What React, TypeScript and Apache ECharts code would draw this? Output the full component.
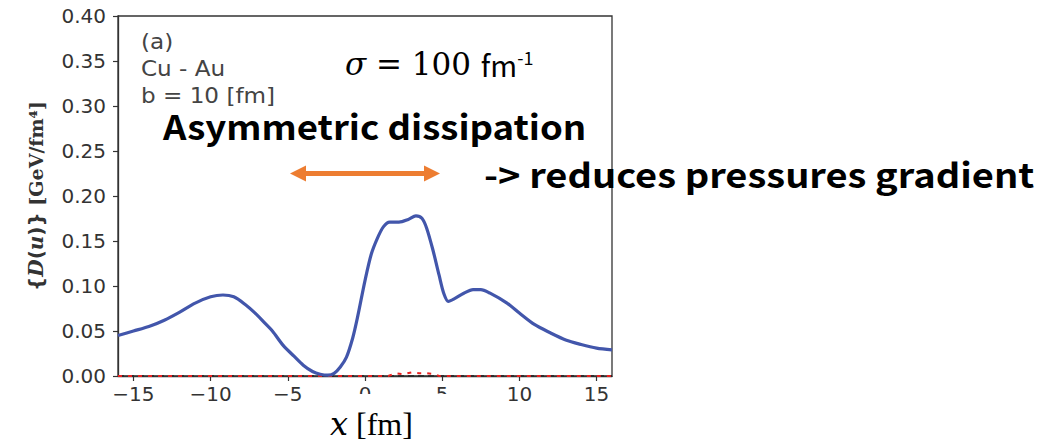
import React, { useEffect, useRef } from "react";
import * as echarts from "echarts";

const xTicks = [-15, -10, -5, 0, 5, 10, 15];

const blueX = [-16, -15, -14, -13, -12, -11, -10, -9.2, -8.5, -7.8, -7, -6.5, -6, -5.3, -4.6, -4, -3.4, -2.9, -2.4, -2.0, -1.6, -1.2, -0.8, -0.5, 0, 0.4, 0.8, 1.2, 1.6, 2.2, 2.8, 3.3, 3.7, 4.0, 4.4, 4.8, 5.1, 5.4, 5.8, 6.4, 7.0, 7.5, 8.1, 9.2, 10, 11, 12, 13, 14, 15, 16];
const blueY = [0.045, 0.05, 0.055, 0.062, 0.071, 0.081, 0.088, 0.09, 0.088, 0.08, 0.068, 0.059, 0.05, 0.034, 0.022, 0.012, 0.005, 0.002, 0.001, 0.003, 0.01, 0.021, 0.042, 0.064, 0.106, 0.135, 0.153, 0.166, 0.171, 0.171, 0.174, 0.178, 0.175, 0.164, 0.14, 0.112, 0.092, 0.083, 0.086, 0.092, 0.096, 0.096, 0.092, 0.081, 0.07, 0.057, 0.048, 0.04, 0.035, 0.031, 0.029];

const redX = [-16, 1.5, 2.0, 2.5, 3.0, 3.5, 4.0, 4.5, 4.8, 16];
const redY = [0, 0, 0.003, 0.002, 0.004, 0.003, 0.003, 0.002, 0, 0];

const baseX = [-16, 16];
const baseY = [0, 0];

const infoLines = ["(a)", "Cu - Au", "b = 10 [fm]"];

export default function App() {
  const ref = useRef<HTMLDivElement>(null);
  useEffect(() => {
    if (!ref.current) return;
    const chart = echarts.init(ref.current, null, { renderer: "svg" });
    const fmtX = (v: number) => (v < 0 ? "\u2212" + Math.abs(v) : String(v));
    chart.setOption({
      animation: false,
      backgroundColor: "#ffffff",
      grid: {
        left: 118,
        top: 16,
        width: 494,
        height: 360,
        show: true,
        borderColor: "#333",
        borderWidth: 1.3,
        backgroundColor: "transparent",
        outerBoundsMode: "none",
        containLabel: false,
      },
      xAxis: {
        type: "value",
        min: -16,
        max: 16,
        splitLine: { show: false },
        axisLine: { show: true, onZero: false, lineStyle: { color: "#333", width: 1.3 } },
        axisTick: { show: true, length: 5, lineStyle: { color: "#333", width: 1.2 }, customValues: xTicks },
        axisLabel: {
          customValues: xTicks,
          formatter: fmtX,
          color: "#333",
          fontSize: 20,
          fontFamily: "DejaVu Sans",
          margin: 8,
        },
      },
      yAxis: {
        type: "value",
        min: 0,
        max: 0.4,
        interval: 0.05,
        splitLine: { show: false },
        axisLine: { show: true, onZero: false, lineStyle: { color: "#333", width: 1.3 } },
        axisTick: { show: true, length: 5, lineStyle: { color: "#333", width: 1.2 } },
        axisLabel: {
          formatter: (v: number) => v.toFixed(2),
          color: "#333",
          fontSize: 20,
          fontFamily: "DejaVu Sans",
          margin: 12,
        },
        name: "{br|{}{it|D}{br|(}{it|u}{br|)}}{unit| [GeV/fm\u2074]}",
        nameLocation: "middle",
        nameRotate: 90,
        nameGap: 72,
        nameTextStyle: {
          fontSize: 20,
          fontWeight: "bold",
          fontFamily: "DejaVu Sans",
          color: "#333",
          rich: {
            br: { fontSize: 20, fontWeight: "bold", fontFamily: "DejaVu Sans", color: "#333" },
            it: { fontSize: 20, fontStyle: "italic", fontWeight: "bold", fontFamily: "DejaVu Serif", color: "#333" },
            unit: { fontSize: 19, fontFamily: "DejaVu Serif", color: "#333" },
          },
        },
      },
      series: [
        {
          type: "line",
          data: baseX.map((x, i) => [x, baseY[i]]),
          showSymbol: false,
          lineStyle: { color: "#222", width: 1.5, type: [6, 4] },
          z: 2,
        },
        {
          type: "line",
          data: redX.map((x, i) => [x, redY[i]]),
          showSymbol: false,
          lineStyle: { color: "#e8201f", width: 2, type: [4, 6] },
          z: 3,
        },
        {
          type: "line",
          data: blueX.map((x, i) => [x, blueY[i]]),
          smooth: 0.3,
          showSymbol: false,
          lineStyle: { color: "#4256ab", width: 3.2 },
          z: 4,
        },
      ],
      graphic: [
        {
          type: "rect",
          z: 100,
          shape: { x: 330, y: 394, width: 150, height: 51 },
          style: { fill: "#ffffff" },
        },
        {
          type: "text",
          z: 101,
          x: 330,
          y: 408,
          style: {
            text: "{it|x} [fm]",
            fill: "#000",
            font: "32px 'Liberation Serif'",
            rich: { it: { fontStyle: "italic", fontFamily: "DejaVu Serif", fontSize: 32, fill: "#000" } },
          },
        },
        ...infoLines.map((t, i) => ({
          type: "text",
          z: 101,
          x: 141,
          y: 31 + i * 27,
          scaleX: 1.1,
          style: { text: t, fill: "#444", font: "21px 'DejaVu Sans'" },
        })),
        {
          type: "text",
          z: 101,
          x: 345,
          y: 48,
          style: {
            text: "{it|\u03c3}{s| = 100 }{u|fm}{sup|-1}",
            rich: {
              it: { fontFamily: "DejaVu Serif", fontStyle: "italic", fontSize: 31, fill: "#000" },
              s: { fontFamily: "DejaVu Serif", fontSize: 31, fill: "#000" },
              u: { fontFamily: "Noto Sans CJK JP", fontSize: 29, fill: "#000" },
              sup: { fontFamily: "Noto Sans CJK JP", fontSize: 18, fill: "#000", verticalAlign: "top", padding: [0, 0, 14, 0] },
            },
          },
        },
        {
          type: "text",
          z: 101,
          x: 163,
          y: 108,
          scaleX: 1.076,
          style: { text: "Asymmetric dissipation", fill: "#000", font: "bold 34px 'Noto Sans CJK JP'" },
        },
        {
          type: "text",
          z: 101,
          x: 484,
          y: 156,
          scaleX: 1.12,
          style: { text: "-> reduces pressures gradient", fill: "#000", font: "bold 34px 'Noto Sans CJK JP'" },
        },
        {
          type: "line",
          z: 101,
          shape: { x1: 304, y1: 173.5, x2: 426, y2: 173.5 },
          style: { stroke: "#ed7d31", lineWidth: 5 },
        },
        {
          type: "polygon",
          z: 101,
          shape: { points: [[290, 173.5], [306, 165.5], [306, 181.5]] },
          style: { fill: "#ed7d31" },
        },
        {
          type: "polygon",
          z: 101,
          shape: { points: [[440, 173.5], [424, 165.5], [424, 181.5]] },
          style: { fill: "#ed7d31" },
        },
      ],
    });
    return () => chart.dispose();
  }, []);
  return (
    <div
      ref={ref}
      style={{ position: "fixed", left: 0, top: 0, width: 1054, height: 445, background: "#fff" }}
    />
  );
}
